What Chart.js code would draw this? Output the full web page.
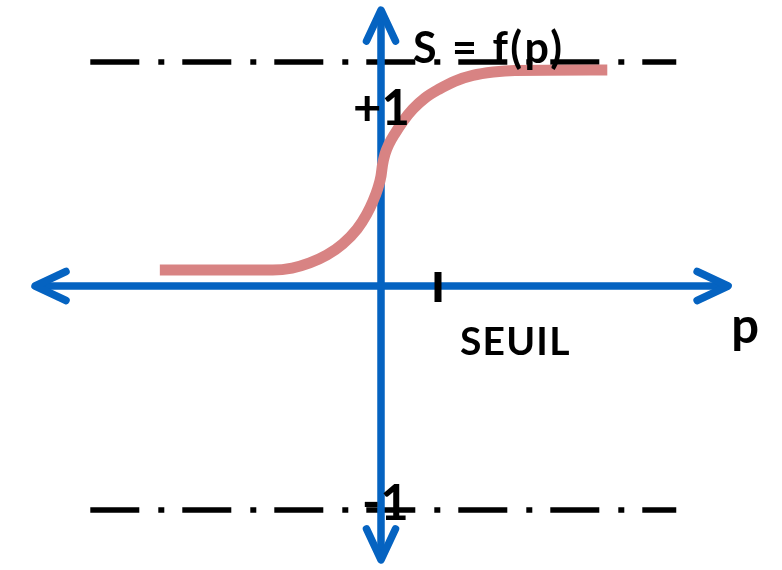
<!DOCTYPE html>
<html>
<head>
<meta charset="utf-8">
<script src="https://cdn.jsdelivr.net/npm/chart.js@4.4.1/dist/chart.umd.min.js"></script>
<style>
  html, body { margin: 0; padding: 0; background: #fff; }
  canvas { display: block; }
</style>
</head>
<body>
<canvas id="sigmoid" width="782" height="570"></canvas>
<script>
// S = f(p) curve (p: SEUIL = 1, S: +1 / -1 asymptotes)
const curveP = [-3.88, -1.9, -1.56, -1.25, -0.95, -0.67, -0.42, -0.25, -0.14, -0.053, 0, 0.026, 0.07,
    0.14, 0.25, 0.39, 0.56, 0.77, 1.02, 1.3, 1.61, 1.97, 2.35, 3.97];
const curveS = [0.071, 0.071, 0.08, 0.103, 0.138, 0.188, 0.254, 0.321, 0.379, 0.438, 0.491, 0.54, 0.589,
    0.634, 0.683, 0.737, 0.79, 0.839, 0.879, 0.915, 0.94, 0.955, 0.962, 0.964];

// dash-dot levels at +1 and -1
const levels = [1, -1];
const levelSpan = [-5.1, 5.18];

// axes (arrow tip to arrow tip)
const pAxis = [-6.07, 6.09];
const sAxis = [1.232, -1.223];

const seuil = 1;
const levelLabels = ['+1', '-1'];

const blue = '#0563C1';
const pink = '#D88383';

let datasets = [];
datasets.push({
    data: curveP.map((p, i) => ({ x: p, y: curveS[i] })),
    borderColor: pink,
    borderWidth: 11,
    borderCapStyle: 'butt',
    cubicInterpolationMode: 'monotone',
    pointRadius: 0,
    order: 0
});
datasets.push({
    data: [{ x: pAxis[0], y: 0 }, { x: pAxis[1], y: 0 }],
    borderColor: blue, borderWidth: 7.5, pointRadius: 0, order: 1
});
datasets.push({
    data: [{ x: 0, y: sAxis[0] }, { x: 0, y: sAxis[1] }],
    borderColor: blue, borderWidth: 7.5, pointRadius: 0, order: 1
});
levels.forEach(lv => {
    datasets.push({
        data: [{ x: levelSpan[0], y: lv }, { x: levelSpan[1], y: lv }],
        borderColor: '#000', borderWidth: 5.5, borderDash: [49, 19, 6, 18],
        borderCapStyle: 'butt', pointRadius: 0, order: 2
    });
});

const overlay = {
    id: 'overlay',
    afterDatasetsDraw(chart) {
        const ctx = chart.ctx;
        const xs = chart.scales.x, ys = chart.scales.y;
        const x0 = xs.getPixelForValue(0), y0 = ys.getPixelForValue(0);

        // arrow heads
        ctx.save();
        ctx.strokeStyle = blue;
        ctx.lineWidth = 7.5;
        ctx.lineCap = 'round';
        ctx.lineJoin = 'round';
        const head = (tx, ty, dx, dy) => {
            // dx,dy: direction pointing back from tip
            const px = -dy, py = dx;
            ctx.beginPath();
            ctx.moveTo(tx + dx * 31 + px * 14.5, ty + dy * 31 + py * 14.5);
            ctx.lineTo(tx, ty);
            ctx.lineTo(tx + dx * 31 - px * 14.5, ty + dy * 31 - py * 14.5);
            ctx.stroke();
        };
        head(xs.getPixelForValue(pAxis[0]), y0, 1, 0);
        head(xs.getPixelForValue(pAxis[1]), y0, -1, 0);
        head(x0, ys.getPixelForValue(sAxis[0]), 0, 1);
        head(x0, ys.getPixelForValue(sAxis[1]), 0, -1);

        // threshold tick
        const sx = xs.getPixelForValue(seuil);
        ctx.strokeStyle = '#000';
        ctx.lineWidth = 7;
        ctx.lineCap = 'butt';
        ctx.beginPath();
        ctx.moveTo(sx, y0 - 14);
        ctx.lineTo(sx, y0 + 16);
        ctx.stroke();

        // labels
        ctx.fillStyle = '#000';
        ctx.textAlign = 'left';
        ctx.textBaseline = 'alphabetic';
        const yTop = ys.getPixelForValue(levels[0]);
        const yBot = ys.getPixelForValue(levels[1]);
        ctx.font = 'bold 43px Lato';
        ctx.letterSpacing = '2.5px';
        ctx.fillText('S = f(p)', x0 + 32, yTop + 1);
        ctx.letterSpacing = '0px';
        ctx.font = 'bold 49px Lato';
        ctx.fillText(levelLabels[0], x0 - 28, yTop + 63);
        ctx.fillText(levelLabels[1], x0 - 19, yBot + 10);
        ctx.font = 'bold 39px Lato';
        ctx.letterSpacing = '1.2px';
        ctx.fillText('SEUIL', sx + 22, y0 + 69);
        ctx.letterSpacing = '0px';
        ctx.font = 'bold 49px Lato';
        ctx.fillText('p', xs.getPixelForValue(pAxis[1]) + 3, y0 + 57);
        ctx.restore();
    }
};

new Chart(document.getElementById('sigmoid'), {
    type: 'line',
    data: { datasets: datasets },
    options: {
        responsive: false,
        animation: false,
        devicePixelRatio: 1,
        layout: { padding: 0 },
        datasets: { line: { clip: false } },
        plugins: { legend: { display: false }, tooltip: { enabled: false } },
        scales: {
            x: { type: 'linear', display: false, min: -381 / 57, max: 401 / 57 },
            y: { type: 'linear', display: false, min: -284 / 224, max: 286 / 224 }
        }
    },
    plugins: [overlay]
});
</script>
</body>
</html>
